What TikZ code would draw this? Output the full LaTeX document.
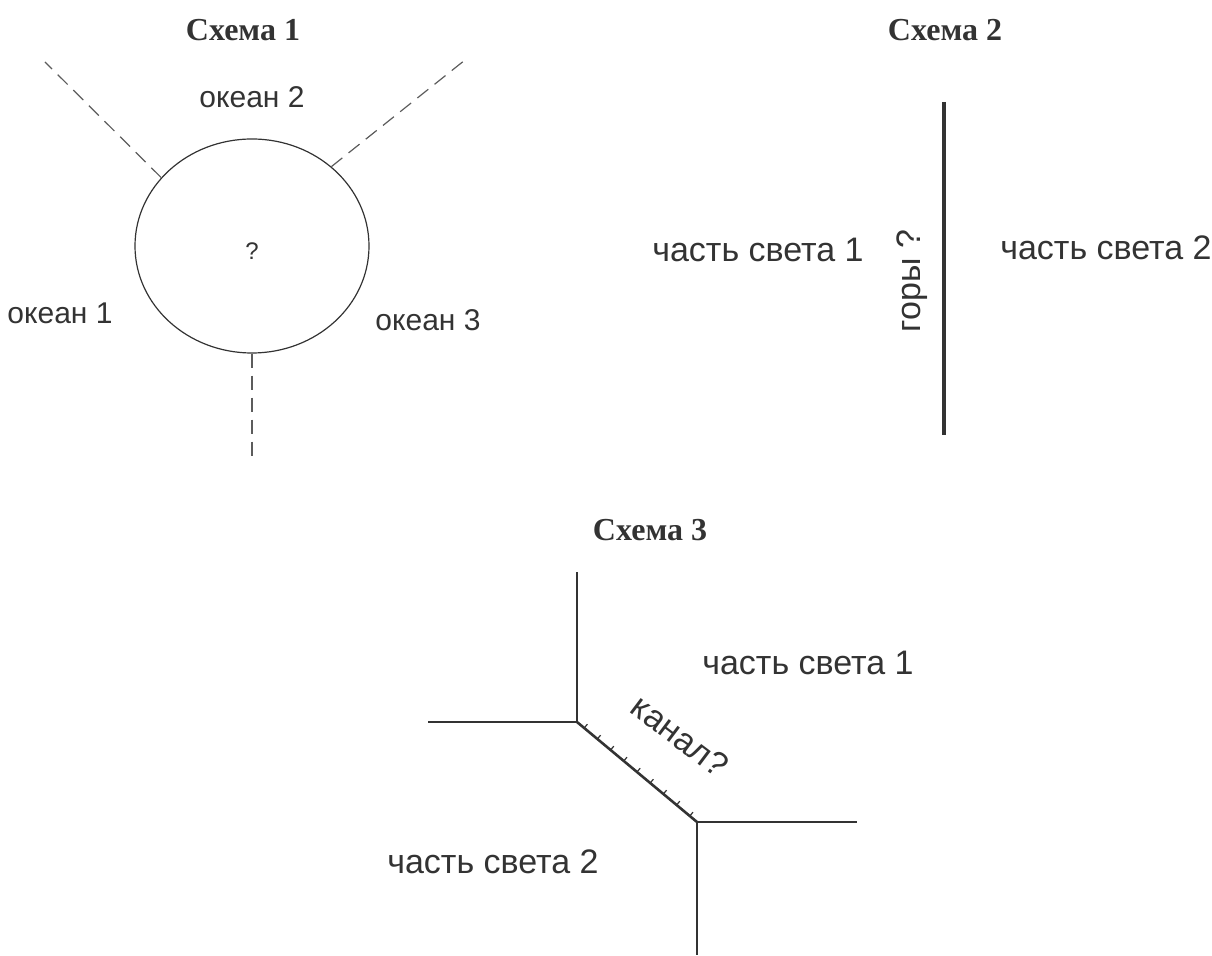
\documentclass[tikz,border=0pt]{standalone}
\usepackage{fontspec}
\setmainfont{Liberation Sans}
\newfontfamily\titlefont{Liberation Serif}
\usetikzlibrary{shapes.geometric,calc}
\definecolor{ink}{HTML}{333333}
\tikzset{
  title/.style={font=\titlefont\bfseries\fontsize{16}{16}\selectfont, text=ink},
  label/.style={font=\fontsize{17}{17}\selectfont, text=ink},
  ocean/.style={font=\fontsize{15}{15}\selectfont, text=ink},
  border/.style={draw=ink, line width=0.6pt},
  sealine/.style={draw=ink!80, line width=0.6pt, dash pattern=on 7pt off 4pt},
}
\begin{document}
\begin{tikzpicture}[x=0.5pt, y=-0.5pt]
  \useasboundingbox (0,0) rectangle (1212,956);

  % scheme 1
  \node[title] (t1) at (243,30) {Схема 1};
  \node[border, ellipse, minimum width=117pt, minimum height=107pt, inner sep=0pt] (land) at (252,246) {};
  \node[font=\fontsize{12}{12}\selectfont, text=ink] (q) at (252,251) {?};
  \coordinate (s1) at (45,62);
  \coordinate (s2) at (465,60);
  \coordinate (s3) at (252,462);
  \draw[sealine] (land.143) -- (s1);
  \draw[sealine] (land.45) -- (s2);
  \draw[sealine] (land.270) -- (s3);
  \node[ocean] (o2) at (252,97) {океан 2};
  \node[ocean] (o1) at (60,313) {океан 1};
  \node[ocean] (o3) at (428,320) {океан 3};

  % scheme 2
  \node[title] (t2) at (945,30) {Схема 2};
  \coordinate (m1) at (944,102);
  \coordinate (m2) at (944,435);
  \draw[draw=ink, line width=1.6pt] (m1) -- (m2);
  \node[label] (w1) at (758,250) {часть света 1};
  \node[label] (w2) at (1106,248) {часть света 2};
  \node[label, rotate=90] (mnt) at (912,281) {горы ?};

  % scheme 3
  \node[title] (t3) at (650,530) {Схема 3};
  \coordinate (a) at (577,722);
  \coordinate (b) at (697,822);
  \coordinate (n) at (577,572);
  \coordinate (w) at (428,722);
  \coordinate (e) at (857,822);
  \coordinate (s) at (697,955);
  \draw[border] (a) -- (n);
  \draw[border] (a) -- (w);
  \draw[border] (b) -- (e);
  \draw[border] (b) -- (s);
  \draw[draw=ink, line width=1.3pt] (a) -- (b);
  \foreach \t in {0.06,0.17,...,0.95}
    \draw[draw=ink, line width=0.6pt] ($(a)!\t!(b)$) -- ($($(a)!\t!(b)$)!2.5pt!90:(b)$);
  \node[label, rotate=-37] (cnl) at (680,736) {канал?};
  \node[label] (v1) at (808,663) {часть света 1};
  \node[label] (v2) at (493,862) {часть света 2};
\end{tikzpicture}
\end{document}
